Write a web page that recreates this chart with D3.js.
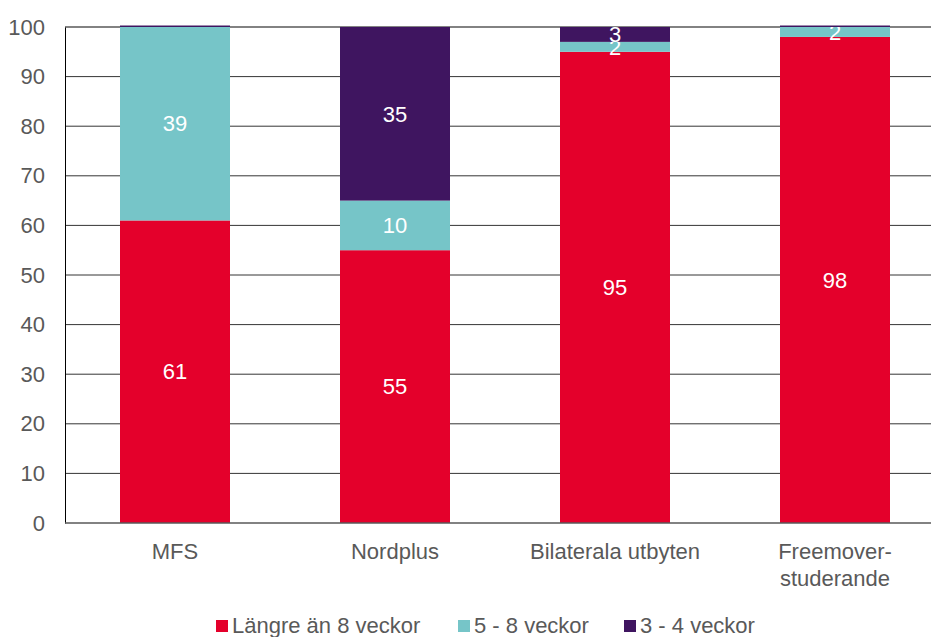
<!DOCTYPE html>
<html>
<head>
<meta charset="utf-8">
<script src="https://cdn.jsdelivr.net/npm/d3@7"></script>
<style>
body { margin: 0; background: #fff; }
svg { font-family: "Liberation Sans", Arial, sans-serif; }
</style>
</head>
<body>
<script>
const categories = ["MFS", "Nordplus", "Bilaterala utbyten", "Freemover-\nstuderande"];
const seriesNames = ["Längre än 8 veckor", "5 - 8 veckor", "3 - 4 veckor"];
const langre = [61, 55, 95, 98];
const femAtta = [39, 10, 2, 2];
const treFyra = [0.3, 35, 3, 0.3];
const yTicks = [0, 10, 20, 30, 40, 50, 60, 70, 80, 90, 100];
const colors = ["#E4002B", "#76C5C8", "#3F1560"];

const width = 931, height = 637;
const fs = 22;
const svg = d3.select("body").append("svg")
  .attr("width", width).attr("height", height);

const x = d3.scaleBand().domain(categories).range([65, 945]).paddingInner(0.5).paddingOuter(0.25);
const y = d3.scaleLinear().domain([0, 100]).range([523, 27]);

// gridlines
svg.append("g").selectAll("line")
  .data(yTicks.filter(d => d > 0))
  .enter().append("line")
    .attr("x1", 65).attr("x2", width)
    .attr("y1", d => y(d)).attr("y2", d => y(d))
    .attr("stroke", d => d === 100 ? "#595959" : "#000")
    .attr("stroke-width", d => d === 100 ? 1.5 : 0.8);

// stacked data
const rows = categories.map((c, i) => ({cat: c, s0: langre[i], s1: femAtta[i], s2: treFyra[i]}));
const stack = d3.stack().keys(["s0", "s1", "s2"])(rows);

const layers = svg.append("g").selectAll("g")
  .data(stack).enter().append("g")
    .attr("fill", (d, i) => colors[i]);

layers.selectAll("rect")
  .data(d => d)
  .enter().append("rect")
    .attr("x", d => x(d.data.cat))
    .attr("width", x.bandwidth())
    .attr("y", d => y(d[1]))
    .attr("height", d => y(d[0]) - y(d[1]));

layers.selectAll("text")
  .data(d => d.filter(p => p[1] - p[0] >= 1))
  .enter().append("text")
    .attr("x", d => x(d.data.cat) + x.bandwidth() / 2)
    .attr("y", d => y((d[0] + d[1]) / 2))
    .attr("dy", "0.35em")
    .attr("text-anchor", "middle")
    .attr("fill", "#fff")
    .attr("font-size", fs)
    .text(d => Math.round(d[1] - d[0]));

// axes
const yAxis = d3.axisLeft(y).tickValues(yTicks).tickSize(0).tickPadding(20);
const gy = svg.append("g").attr("transform", "translate(65,0)").call(yAxis);
gy.select(".domain").attr("stroke", "#000").attr("stroke-width", 1);
gy.selectAll("text").attr("font-size", fs).attr("fill", "#595959")
  .attr("font-family", "Liberation Sans, Arial, sans-serif");

svg.append("line")
  .attr("x1", 65).attr("x2", width)
  .attr("y1", y(0)).attr("y2", y(0))
  .attr("stroke", "#595959").attr("stroke-width", 1.5);

const xLabels = svg.append("g").selectAll("text")
  .data(categories).enter().append("text")
    .attr("x", d => x(d) + x.bandwidth() / 2)
    .attr("y", 559)
    .attr("text-anchor", "middle")
    .attr("font-size", fs)
    .attr("fill", "#595959");
xLabels.selectAll("tspan")
  .data(d => d.split("\n"))
  .enter().append("tspan")
    .attr("x", function() { return d3.select(this.parentNode).attr("x"); })
    .attr("dy", (d, i) => i === 0 ? 0 : 27)
    .text(d => d);

// legend
const legendX = [216, 458, 624];
const legend = svg.append("g").selectAll("g")
  .data(seriesNames).enter().append("g")
    .attr("transform", (d, i) => `translate(${legendX[i]},625)`);
legend.append("rect")
  .attr("x", 0).attr("y", -5).attr("width", 12).attr("height", 12)
  .attr("fill", (d, i) => colors[i]);
legend.append("text")
  .attr("x", 16).attr("dy", "0.35em")
  .attr("font-size", fs).attr("fill", "#595959")
  .text(d => d);
</script>
</body>
</html>
